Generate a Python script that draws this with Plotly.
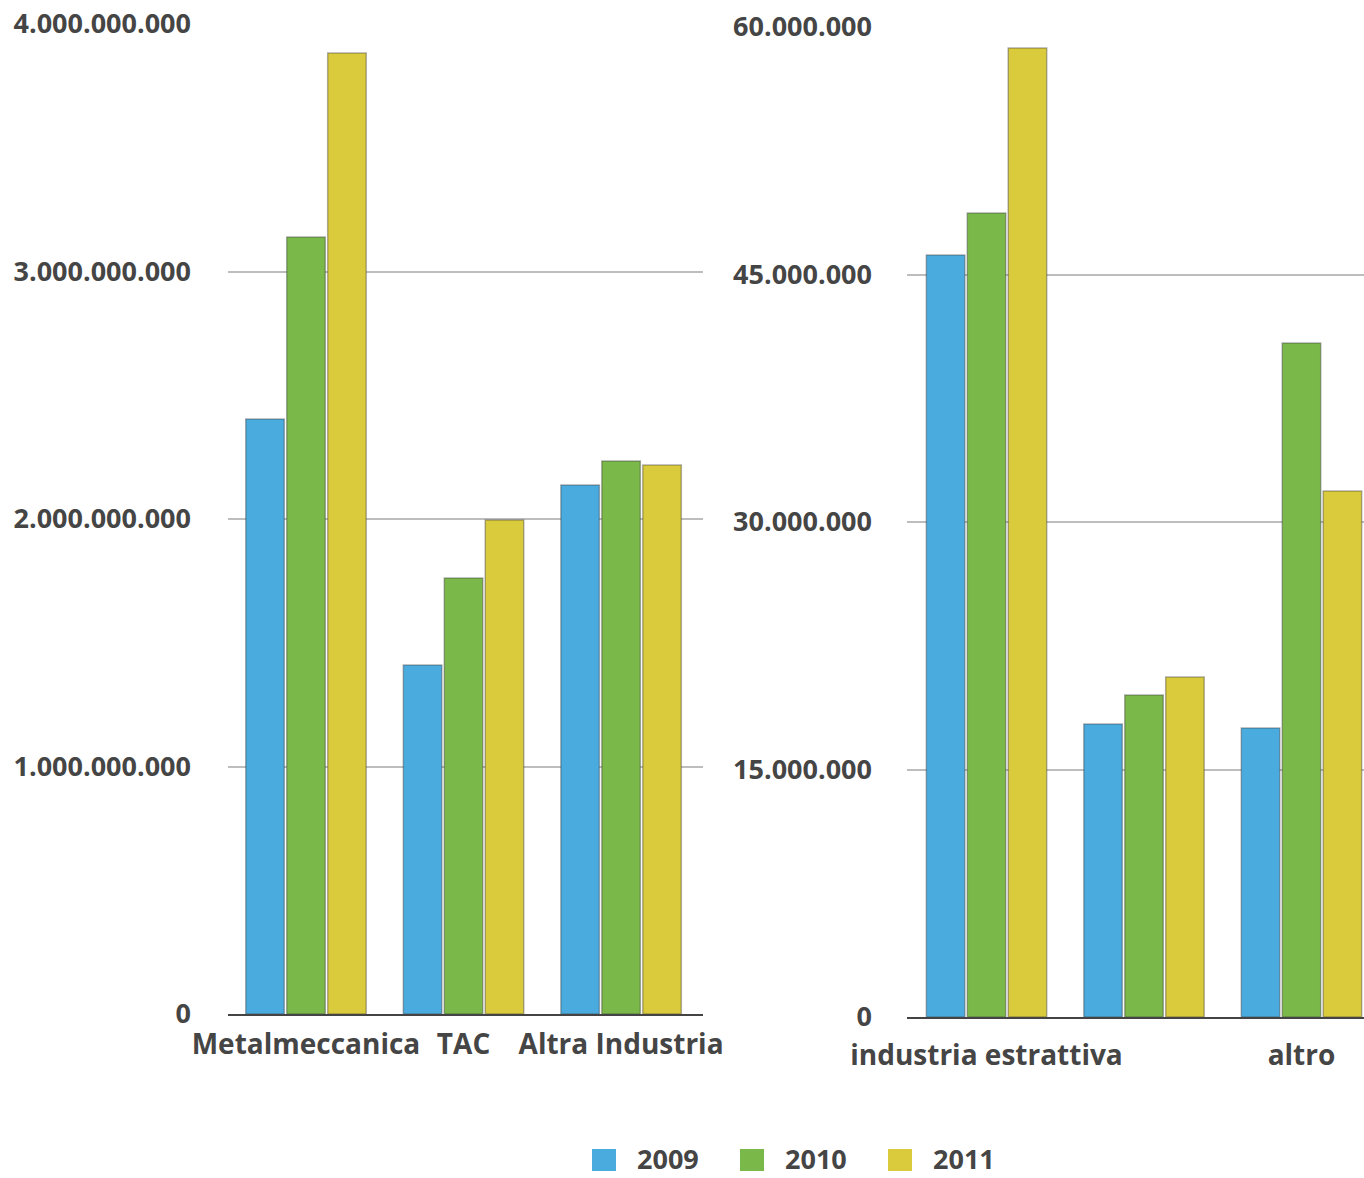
import plotly.graph_objects as go

# Data
years = ["2009", "2010", "2011"]
colors = ["#4aabdf", "#7bb84a", "#dacb3c"]

left_categories = ["Metalmeccanica", "TAC", "Altra Industria"]
left_values = {
    "2009": [2404000000, 1410000000, 2137000000],
    "2010": [3139000000, 1762000000, 2234000000],
    "2011": [3883000000, 1996000000, 2218000000],
}
left_ticks = [0, 1000000000, 2000000000, 3000000000, 4000000000]

right_categories = ["industria estrattiva", "", "altro"]
right_values = {
    "2009": [46180000, 17760000, 17520000],
    "2010": [48730000, 19520000, 40850000],
    "2011": [58730000, 20600000, 31880000],
}
right_ticks = [0, 15000000, 30000000, 45000000, 60000000]

W, H = 1364, 1178
FONT = "Open Sans"
TEXT = "#454545"

fig = go.Figure()

bar_line = dict(color="rgba(60,60,60,0.4)", width=1.5)

for yr, col in zip(years, colors):
    fig.add_trace(go.Bar(
        x=list(range(len(left_categories))), y=left_values[yr], name=yr,
        marker=dict(color=col, line=bar_line), showlegend=False,
        xaxis="x", yaxis="y",
    ))
    fig.add_trace(go.Bar(
        x=list(range(len(right_categories))), y=right_values[yr], name=yr,
        marker=dict(color=col, line=bar_line), showlegend=False,
        xaxis="x2", yaxis="y2",
    ))

ytickfont = dict(family=FONT, size=27, color=TEXT, weight=700)
xtickfont = dict(family=FONT, size=28, color=TEXT, weight=700)

def fmt(v):
    return f"{v:,}".replace(",", ".")

fig.update_layout(
    width=W, height=H,
    margin=dict(l=0, r=0, t=0, b=0, autoexpand=False),
    paper_bgcolor="white", plot_bgcolor="white",
    barmode="group", bargap=0.22, bargroupgap=0.06,
    xaxis=dict(
        domain=[228 / W, 703 / W], range=[-0.495, 2.52],
        tickvals=list(range(len(left_categories))), ticktext=left_categories,
        tickfont=xtickfont, showgrid=False, zeroline=False,
        showline=True, linecolor="#444444", linewidth=2,
        ticks="", ticklabelstandoff=4, automargin=False,
    ),
    yaxis=dict(
        domain=[(H - 1014) / H, (H - 24) / H], range=[0, 4000000000],
        tickvals=left_ticks, ticktext=[fmt(v) for v in left_ticks],
        tickfont=ytickfont, showgrid=True, gridcolor="#bdbdbd", gridwidth=2,
        zeroline=False, showline=False, ticks="", ticklabelstandoff=36,
        automargin=False,
    ),
    xaxis2=dict(
        domain=[907 / W, 1.0], range=[-0.505, 2.397],
        tickvals=list(range(len(right_categories))), ticktext=right_categories,
        tickfont=xtickfont, showgrid=False, zeroline=False,
        showline=True, linecolor="#444444", linewidth=2,
        ticks="", ticklabelstandoff=12, anchor="y2", automargin=False,
    ),
    yaxis2=dict(
        domain=[(H - 1017) / H, (H - 27) / H], range=[0, 60000000],
        tickvals=right_ticks, ticktext=[fmt(v) for v in right_ticks],
        tickfont=ytickfont, showgrid=True, gridcolor="#bdbdbd", gridwidth=2,
        zeroline=False, showline=False, ticks="", ticklabelstandoff=34,
        anchor="x2", automargin=False,
    ),
)

# Legend drawn as swatches with labels along the bottom
legend_x0 = 592
step = 148
for i, (yr, col) in enumerate(zip(years, colors)):
    x0 = legend_x0 + i * step
    fig.add_shape(type="rect", xref="paper", yref="paper",
                  x0=x0 / W, x1=(x0 + 24) / W,
                  y0=(H - 1171) / H, y1=(H - 1149) / H,
                  fillcolor=col, line=dict(width=0))
    fig.add_annotation(xref="paper", yref="paper",
                       x=(x0 + 44) / W, y=(H - 1158) / H,
                       xanchor="left", yanchor="middle", showarrow=False,
                       borderpad=0,
                       text=yr, font=dict(family=FONT, size=27, color=TEXT, weight=700))

fig.write_html("out.html")
